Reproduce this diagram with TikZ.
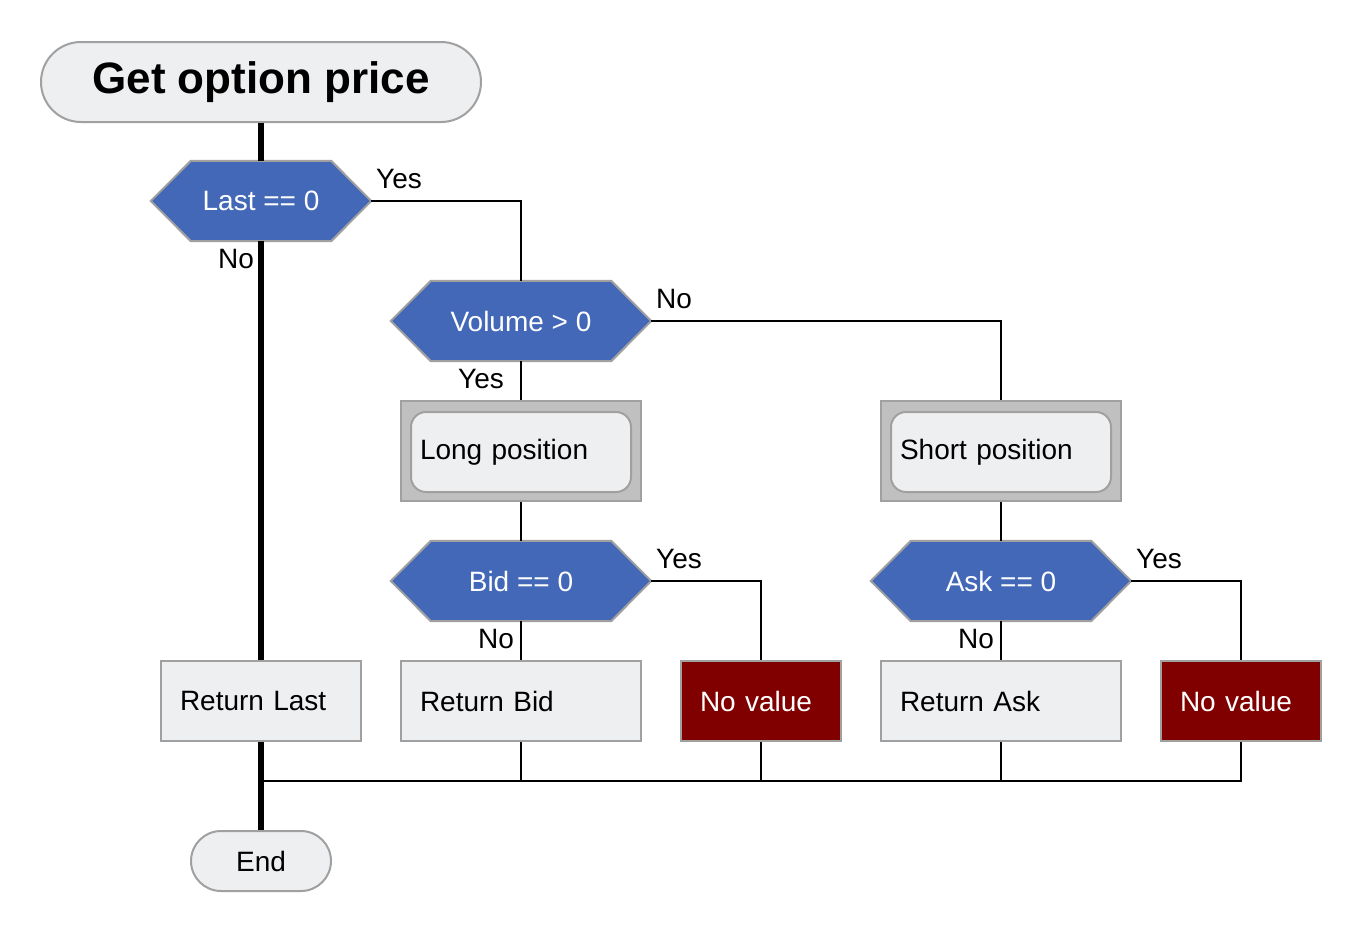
\documentclass[tikz,border=0pt]{standalone}
\usepackage{fontspec}
\setmainfont{Liberation Sans}
\usetikzlibrary{positioning}
\pgfdeclarelayer{background}
\pgfsetlayers{background,main}
\definecolor{bordergray}{HTML}{A0A0A0}
\definecolor{lightfill}{HTML}{EEEFF1}
\definecolor{outerfill}{HTML}{C0C0C0}
\definecolor{hexblue}{HTML}{4368B8}
\definecolor{darkred}{HTML}{800000}
\tikzset{
  base/.style={font=\fontsize{28}{32}\selectfont, inner sep=0pt},
  terminal/.style={base, draw=bordergray, line width=2pt, fill=lightfill},
  hexn/.style={base, text=white, minimum width=#1, minimum height=80pt},
  hexshape/.style={draw=bordergray, line width=2pt, fill=hexblue},
  leftbox/.style={base, draw=bordergray, line width=2pt, fill=lightfill,
     minimum height=80pt, text width=#1-38pt, inner xsep=19pt, align=left},
  redbox/.style={base, draw=bordergray, line width=2pt, fill=darkred, text=white,
     minimum height=80pt, text width=#1-38pt, inner xsep=19pt, align=left},
  outerbox/.style={base, draw=bordergray, line width=2pt, fill=outerfill,
     minimum width=240pt, minimum height=100pt},
  innerbox/.style={base, draw=bordergray, line width=2pt, fill=lightfill, rounded corners=15pt,
     minimum height=80pt, text width=202pt, inner xsep=9pt, align=left},
  lab/.style={base},
  thin/.style={line width=2pt},
  thick/.style={line width=5.5pt},
}
\newcommand{\hexpath}[1]{%
  \begin{pgfonlayer}{background}
  \path[hexshape] ([xshift=40pt]#1.north west) -- ([xshift=-40pt]#1.north east) -- (#1.east)
     -- ([xshift=-40pt]#1.south east) -- ([xshift=40pt]#1.south west) -- (#1.west) -- cycle;
  \end{pgfonlayer}}
\begin{document}
\begin{tikzpicture}[x=1pt,y=-1pt]
\useasboundingbox (0,0) rectangle (1360,940);

% title
\node[terminal, rounded corners=40pt, minimum width=440pt, minimum height=80pt,
  font=\fontsize{44}{50}\selectfont\bfseries] (title) at (261,82) {Get option price};

% decisions
\node[hexn=220pt] (last) at (261,201) {Last == 0};
\hexpath{last}
\node[hexn=260pt] (vol) at (521,321) {Volume > 0};
\hexpath{vol}
\node[hexn=260pt] (bid) at (521,581) {Bid == 0};
\hexpath{bid}
\node[hexn=260pt] (ask) at (1001,581) {Ask == 0};
\hexpath{ask}

% position boxes
\node[outerbox] (longo) at (521,451) {};
\node[innerbox] (long) at (521,452) {Long position};
\node[outerbox] (shorto) at (1001,451) {};
\node[innerbox] (short) at (1001,452) {Short position};

% result boxes
\node[leftbox=200pt] (rlast) at (261,701) {Return Last};
\node[leftbox=240pt] (rbid) at (521,701) {Return Bid};
\node[redbox=160pt] (nv1) at (761,701) {No value};
\node[leftbox=240pt] (rask) at (1001,701) {Return Ask};
\node[redbox=160pt] (nv2) at (1241,701) {No value};

% end
\node[terminal, rounded corners=30pt, minimum width=140pt, minimum height=60pt] (end) at (261,861) {End};

% labels
\node[lab] (l1) at (399,179) {Yes};
\node[lab] (l2) at (236,259) {No};
\node[lab] (l3) at (674,299) {No};
\node[lab] (l4) at (481,379) {Yes};
\node[lab] (l5) at (679,559) {Yes};
\node[lab] (l6) at (496,639) {No};
\node[lab] (l7) at (1159,559) {Yes};
\node[lab] (l8) at (976,639) {No};

% connectors
\draw[thick] (title.south) -- (last.north);
\draw[thick] (last.south) -- (rlast.north);
\draw[thick] (rlast.south) -- (end.north);
\draw[thin] (last.east) -| (vol.north);
\draw[thin] (vol.east) -| (shorto.north);
\draw[thin] (vol.south) -- (longo.north);
\draw[thin] (longo.south) -- (bid.north);
\draw[thin] (shorto.south) -- (ask.north);
\draw[thin] (bid.east) -| (nv1.north);
\draw[thin] (bid.south) -- (rbid.north);
\draw[thin] (ask.east) -| (nv2.north);
\draw[thin] (ask.south) -- (rask.north);

\coordinate (j) at (261,781);
\draw[thin] (nv2.south) |- (j);
\draw[thin] (rbid.south) -- (rbid.south |- j);
\draw[thin] (nv1.south) -- (nv1.south |- j);
\draw[thin] (rask.south) -- (rask.south |- j);
\end{tikzpicture}
\end{document}
